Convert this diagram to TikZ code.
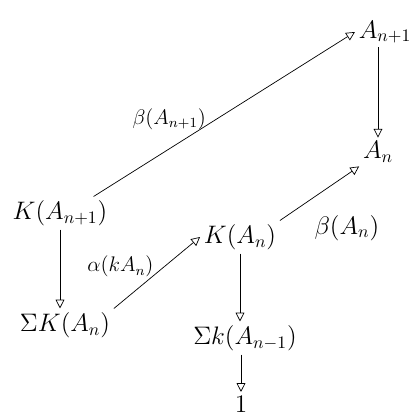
\documentclass[tikz,border=0pt]{standalone}
\usepackage{amsmath,amssymb}
\usepackage{tikz}
\usetikzlibrary{arrows.meta}

\tikzset{
  obj/.style={font=\Large, inner sep=2pt},
  map/.style={thin, -{Triangle[open,length=5pt,width=5pt]}},
  lbl/.style={font=\large}
}

\begin{document}
\begin{tikzpicture}[x=0.02cm,y=-0.02cm]
  \useasboundingbox (0,0) rectangle (420,416);
  % objects
  \node[obj] (Anp) at (385,32) {$A_{n+1}$};
  \node[obj] (An) at (378,152) {$A_n$};
  \node[obj] (KAnp) at (60,213) {$K(A_{n+1})$};
  \node[obj] (KAn) at (240,237) {$K(A_n)$};
  \node[obj] (SKAn) at (65,325) {$\Sigma K(A_n)$};
  \node[obj] (SKAnm) at (245,338) {$\Sigma k(A_{n-1})$};
  \node[obj] (one) at (241,404) {$1$};
  % maps
  \draw[map] ([xshift=-10pt]KAnp.north east) -- (Anp.west)
    node[lbl,pos=0.42,above left=-5pt] {$\beta(A_{n+1})$};
  \draw[map] (Anp.south -| An) -- (An.north);
  \draw[map] (KAn.north east) -- (An.south west)
    node[obj,pos=0.3,below right=4pt] {$\beta(A_n)$};
  \draw[map] (KAnp.south) -- (SKAn.north -| KAnp);
  \draw[map] (SKAn.north east) -- (KAn.west)
    node[lbl,pos=0.45,above left=-4pt] {$\alpha(kA_n)$};
  \draw[map] (KAn.south) -- (SKAnm.north -| KAn);
  \draw[map] (SKAnm.south -| one) -- (one.north);
\end{tikzpicture}
\end{document}
